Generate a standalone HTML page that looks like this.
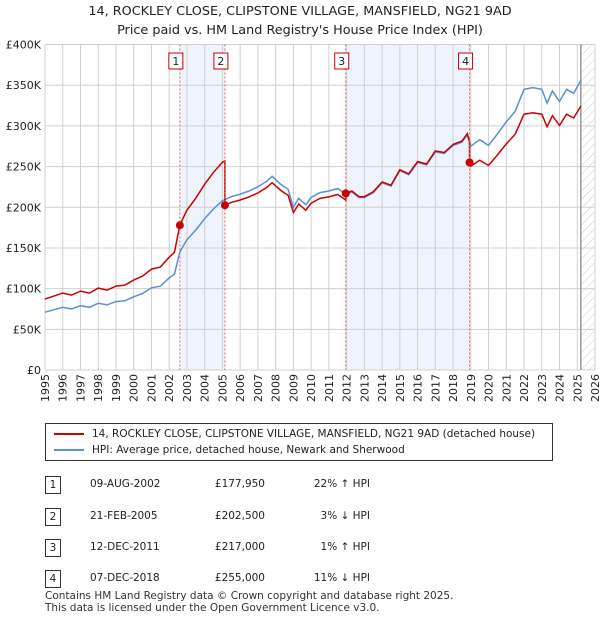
<!DOCTYPE html>
<html><head><meta charset="utf-8"><style>
body{margin:0;background:#fff;font-family:"DejaVu Sans","Liberation Sans",sans-serif;color:#222}
#w{position:relative;width:600px;height:620px}
.t{position:absolute;font-size:12px}
</style></head><body><div id="w">
<div class="t" style="left:0;width:600px;top:2px;text-align:center;font-size:12.8px;line-height:19px">14, ROCKLEY CLOSE, CLIPSTONE VILLAGE, MANSFIELD, NG21 9AD<br>Price paid vs. HM Land Registry's House Price Index (HPI)</div>
<svg id="s" width="600" height="410" style="position:absolute;left:0;top:0"></svg>
<div style="position:absolute;left:45px;top:423px;width:506px;height:36px;border:1px solid #333;font-size:10.5px">
<div style="position:absolute;left:8px;top:4px"><span style="display:inline-block;width:30px;border-top:2px solid #cc0000;vertical-align:middle;margin-right:8px"></span>14, ROCKLEY CLOSE, CLIPSTONE VILLAGE, MANSFIELD, NG21 9AD (detached house)</div>
<div style="position:absolute;left:8px;top:20px"><span style="display:inline-block;width:30px;border-top:2px solid #5b8fd0;vertical-align:middle;margin-right:8px"></span>HPI: Average price, detached house, Newark and Sherwood</div>
</div>
<div id="tbl"></div>
<div class="t" style="left:45px;top:590px;font-size:10.5px;line-height:12px;color:#333">Contains HM Land Registry data © Crown copyright and database right 2025.<br>This data is licensed under the Open Government Licence v3.0.</div>
</div>
<script>
const years=[1995,1996,1997,1998,1999,2000,2001,2002,2003,2004,2005,2006,2007,2008,2009,2010,2011,2012,2013,2014,2015,2016,2017,2018,2019,2020,2021,2022,2023,2024,2025,2026];
const yTicks=[0,50000,100000,150000,200000,250000,300000,350000,400000];
const yTickLabels=["£0","£50K","£100K","£150K","£200K","£250K","£300K","£350K","£400K"];
const hpiT=[1995,1995.5,1996,1996.5,1997,1997.5,1998,1998.5,1999,1999.5,2000,2000.5,2001,2001.5,2002,2002.3,2002.6,2003,2003.5,2004,2004.5,2005,2005.5,2006,2006.5,2007,2007.5,2007.8,2008.3,2008.7,2009,2009.3,2009.7,2010,2010.5,2011,2011.5,2011.95,2012.3,2012.7,2013,2013.5,2014,2014.5,2015,2015.5,2016,2016.5,2017,2017.5,2018,2018.5,2018.8,2019,2019.5,2020,2020.5,2021,2021.5,2022,2022.5,2023,2023.3,2023.6,2024,2024.4,2024.8,2025.2];
const hpiV=[71000,74000,77000,75000,79000,77000,82000,80000,84000,85000,90000,94000,101000,103000,113000,118000,145000,160000,172000,186000,198000,208000,213000,216000,220000,225000,232000,238000,228000,222000,200000,211000,203000,212000,218000,220000,223000,216000,219000,212000,212000,218000,230000,226000,245000,240000,255000,252000,268000,266000,276000,280000,289000,275000,283000,276000,290000,305000,318000,345000,347000,345000,328000,343000,330000,345000,340000,356000];
const saleT=[2002.6,2005.14,2011.95,2018.93];
const saleV=[177950,202500,217000,255000];
const saleDates=["09-AUG-2002","21-FEB-2005","12-DEC-2011","07-DEC-2018"];
const saleRel=["22% \u2191 HPI","3% \u2193 HPI","1% \u2191 HPI","11% \u2193 HPI"];
const L=45,R=595,T=44.5,B=370;
const X=t=>L+(t-1995)/31*(R-L);
const Y=v=>B-v/400000*(B-T);
function hpiAt(t){for(let i=1;i<hpiT.length;i++){if(t<=hpiT[i]){const f=(t-hpiT[i-1])/(hpiT[i]-hpiT[i-1]);return hpiV[i-1]+f*(hpiV[i]-hpiV[i-1]);}}return hpiV[hpiV.length-1];}
const s=document.getElementById('s');const NS='http://www.w3.org/2000/svg';
function mk(tag,a,name,p){const e=document.createElementNS(NS,tag);for(const k in a)e.setAttribute(k,a[k]);


(p||s).appendChild(e);return e;}
mk('rect',{x:X(saleT[0]),y:T,width:X(saleT[1])-X(saleT[0]),height:B-T,fill:'#eef3fc'},'shade-1-2');
mk('rect',{x:X(saleT[2]),y:T,width:X(saleT[3])-X(saleT[2]),height:B-T,fill:'#eef3fc'},'shade-3-4');
const defs=mk('defs',{},'defs');const pat=mk('pattern',{id:'h',width:6,height:6,patternUnits:'userSpaceOnUse',patternTransform:'rotate(45)'},'hatch-pattern',defs);
mk('line',{x1:0,y1:0,x2:0,y2:6,stroke:'#ccc','stroke-width':1},'hatch-line',pat);
mk('rect',{x:X(2025.2),y:T,width:R-X(2025.2),height:B-T,fill:'url(#h)'},'future-hatch');
years.forEach(y=>{mk('line',{x1:X(y),x2:X(y),y1:T,y2:B,stroke:'#d0d0d0'},'x-grid');
const t=mk('text',{x:0,y:0,'text-anchor':'end','font-size':11,fill:'#222',transform:'translate('+(X(y)+4)+',374) rotate(-90)'},'x-tick-label');t.textContent=y;});
yTicks.forEach((v,i)=>{mk('line',{x1:L,x2:R,y1:Y(v),y2:Y(v),stroke:'#d0d0d0'},'y-grid');
const t=mk('text',{x:41,y:Y(v)+4,'text-anchor':'end','font-size':11,fill:'#222'},'y-tick-label');t.textContent=yTickLabels[i];});
mk('line',{x1:X(2025.2),x2:X(2025.2),y1:T,y2:B,stroke:'#999','stroke-width':1.5},'data-end-line');
let d='';hpiT.forEach((t,i)=>{d+=(i?'L':'M')+X(t).toFixed(1)+','+Y(hpiV[i]).toFixed(1);});
mk('path',{d:d,fill:'none',stroke:'#5b8fd0','stroke-width':1.5},'hpi-line');
function segRatio(t){let k=0;for(let i=0;i<saleT.length;i++)if(t>=saleT[i])k=i;return saleV[k]/hpiAt(saleT[k]);}
const pts=[];const ts=[...hpiT,...saleT,...saleT.map(t=>t-0.001)].sort((a,b)=>a-b);
ts.forEach(t=>pts.push([X(t),Y(hpiAt(t)*segRatio(t))]));
mk('path',{d:'M'+pts.map(p=>p[0].toFixed(1)+','+p[1].toFixed(1)).join('L'),fill:'none',stroke:'#cc0000','stroke-width':1.5},'property-line');
saleT.forEach((t,i)=>{mk('line',{x1:X(t),x2:X(t),y1:T,y2:B,stroke:'#e06060','stroke-dasharray':'2,2'},'sale-marker-line');
mk('circle',{cx:X(t),cy:Y(saleV[i]),r:4,fill:'#cc0000'},'sale-point');
mk('rect',{x:X(t)-11,y:53,width:14,height:16,fill:'#fff',stroke:'#cc0000'},'sale-label-box');
const tx=mk('text',{x:X(t)-4,y:65,'text-anchor':'middle','font-size':11,fill:'#222'},'sale-label');tx.textContent=i+1;});
const tb=document.getElementById('tbl');const rowsY=[476,508,539,570];
saleT.forEach((t,i)=>{const r=document.createElement('div');


r.style.cssText='position:absolute;left:0;top:'+rowsY[i]+'px;width:600px;height:18px;font-size:10.5px';
r.innerHTML='<div style="position:absolute;left:45px;top:0;width:14px;height:16px;border:1px solid #333;text-align:center;line-height:16px">'+(i+1)+'</div>'+
'<div style="position:absolute;left:90px;top:2px">'+saleDates[i]+'</div>'+
'<div style="position:absolute;left:180px;width:85px;text-align:right;top:2px">£'+saleV[i].toLocaleString('en-GB')+'</div>'+
'<div style="position:absolute;left:260px;width:110px;text-align:right;top:2px">'+saleRel[i]+'</div>';
tb.appendChild(r);});
</script></body></html>
